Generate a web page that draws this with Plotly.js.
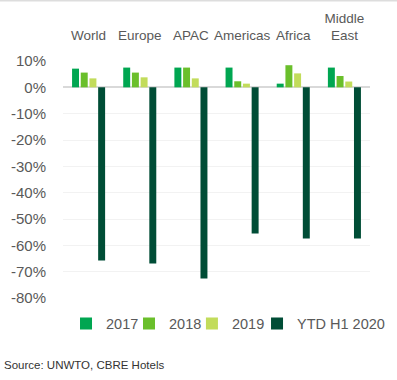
<!DOCTYPE html>
<html><head><meta charset="utf-8">
<script src="https://cdn.plot.ly/plotly-3.0.1.min.js"></script>
<style>html,body{margin:0;padding:0;background:#fff;}#chart{width:397px;height:380px;}</style>
</head><body><div id="chart"></div>
<script>
var regions = ["World", "Europe", "APAC", "Americas", "Africa", "Middle<br>East"];
var seriesNames = ["2017", "2018", "2019", "YTD H1 2020"];
var v2017 = [7.1, 7.5, 7.5, 7.5, 1.4, 7.5];
var v2018 = [5.6, 5.6, 7.5, 2.3, 8.4, 4.3];
var v2019 = [3.4, 3.8, 3.4, 1.4, 5.3, 2.2];
var v2020 = [-65.8, -66.9, -72.6, -55.5, -57.4, -57.4];
var yTicks = [10, 0, -10, -20, -30, -40, -50, -60, -70, -80];
var yTickText = ["10%", "0%", "-10%", "-20%", "-30%", "-40%", "-50%", "-60%", "-70%", "-80%"];
var colors = ["#00a651", "#6abf2b", "#c2dc5b", "#004d36"];
var FONT = '"Liberation Sans Narrow", "Liberation Sans", Arial, sans-serif';

var legendIds = ['legend', 'legend2', 'legend3', 'legend4'];
var legendX = [0.0098, 0.215, 0.420, 0.632];

var all = [v2017, v2018, v2019, v2020];
var data = all.map(function(vals, i){
  return {type:'bar', name: seriesNames[i], x: regions, y: vals,
    marker:{color: colors[i]}, hoverinfo:'skip', legend: legendIds[i]};
});

var legFont = {family: FONT, size: 14.5, color: '#595959'};
var layout = {
  width: 397, height: 380,
  margin: {l: 63, r: 27, t: 61, b: 82, autoexpand: false},
  paper_bgcolor: '#fff', plot_bgcolor: '#fff',
  barmode: 'group', bargap: 0.32, bargroupgap: 0.2,
  font: {family: FONT, color: '#595959', size: 14},
  xaxis: {side: 'top', type: 'category', showgrid: false, zeroline: false, automargin: false,
    showline: false, ticks: '', tickangle: 0, ticklabelstandoff: 17,
    tickfont: {family: FONT, size: 13.5, color: '#595959'}},
  yaxis: {range: [-80, 10], tickvals: yTicks, ticktext: yTickText, automargin: false,
    showgrid: true, gridcolor: '#f2f2f2', gridwidth: 1,
    zeroline: true, zerolinecolor: '#d9d9d9', zerolinewidth: 2,
    showline: false, ticks: '', ticklabelstandoff: 16,
    tickfont: {family: FONT, size: 15, color: '#595959'}},
  showlegend: true,
  annotations: [{xref: 'paper', yref: 'paper', x: -0.2, xanchor: 'left', y: -0.283, yanchor: 'middle',
    text: 'Source: UNWTO, CBRE Hotels', showarrow: false,
    font: {family: FONT, size: 11.5, color: '#333333'}}],
  shapes: [{type:'line', xref:'paper', yref:'paper', x0:-0.21, x1:1.09, y0:1.255, y1:1.255,
    line:{color:'#dddddd', width:2}}]
};
legendIds.forEach(function(id, i){
  layout[id] = {orientation: 'h', x: legendX[i], xanchor: 'left', y: -0.04, yanchor: 'top',
    font: legFont, itemwidth: 30, bgcolor: 'rgba(0,0,0,0)'};
});
Plotly.newPlot('chart', data, layout, {displayModeBar: false, staticPlot: true});
</script></body></html>
